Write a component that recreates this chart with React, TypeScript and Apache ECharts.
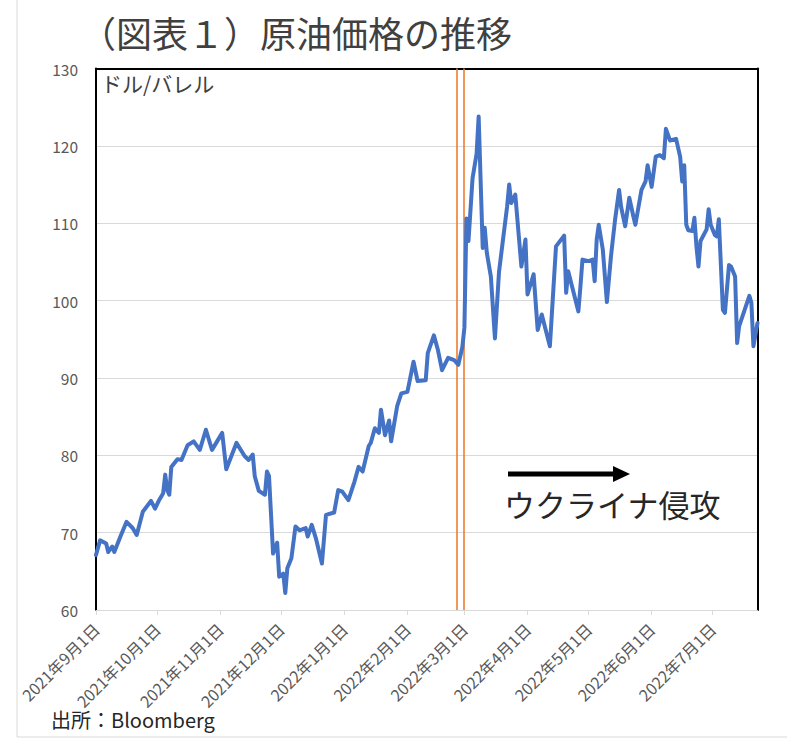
import React, { useEffect, useRef } from "react";
import * as echarts from "echarts";

// ---- data ----
const dates = [
  "2021-09-01", "2021-09-03", "2021-09-06", "2021-09-07", "2021-09-09", "2021-09-10",
  "2021-09-13", "2021-09-16", "2021-09-19", "2021-09-21", "2021-09-24", "2021-09-28",
  "2021-09-30", "2021-10-02", "2021-10-04", "2021-10-05", "2021-10-06", "2021-10-07",
  "2021-10-08", "2021-10-11", "2021-10-13", "2021-10-16", "2021-10-19", "2021-10-22",
  "2021-10-25", "2021-10-28", "2021-11-02", "2021-11-04", "2021-11-09", "2021-11-13",
  "2021-11-15", "2021-11-17", "2021-11-18", "2021-11-20", "2021-11-23", "2021-11-24",
  "2021-11-25", "2021-11-27", "2021-11-29", "2021-11-30", "2021-12-02", "2021-12-03",
  "2021-12-04", "2021-12-06", "2021-12-08", "2021-12-10", "2021-12-13", "2021-12-14",
  "2021-12-16", "2021-12-18", "2021-12-21", "2021-12-23", "2021-12-27", "2021-12-29",
  "2021-12-31", "2022-01-03", "2022-01-06", "2022-01-08", "2022-01-10", "2022-01-13",
  "2022-01-14", "2022-01-16", "2022-01-18", "2022-01-19", "2022-01-21", "2022-01-23",
  "2022-01-24", "2022-01-27", "2022-01-29", "2022-02-01", "2022-02-04", "2022-02-06",
  "2022-02-10", "2022-02-11", "2022-02-14", "2022-02-16", "2022-02-18", "2022-02-21",
  "2022-02-24", "2022-02-26", "2022-02-28", "2022-03-01", "2022-03-02", "2022-03-03",
  "2022-03-05", "2022-03-07", "2022-03-08", "2022-03-10", "2022-03-11", "2022-03-12",
  "2022-03-14", "2022-03-16", "2022-03-18", "2022-03-22", "2022-03-23", "2022-03-24",
  "2022-03-26", "2022-03-29", "2022-03-31", "2022-04-01", "2022-04-04", "2022-04-06",
  "2022-04-08", "2022-04-12", "2022-04-15", "2022-04-19", "2022-04-20", "2022-04-21",
  "2022-04-26", "2022-04-27", "2022-04-28", "2022-05-01", "2022-05-03", "2022-05-04",
  "2022-05-05", "2022-05-06", "2022-05-08", "2022-05-10", "2022-05-12", "2022-05-14",
  "2022-05-16", "2022-05-17", "2022-05-19", "2022-05-21", "2022-05-23", "2022-05-24",
  "2022-05-27", "2022-05-29", "2022-05-30", "2022-06-01", "2022-06-03", "2022-06-05",
  "2022-06-07", "2022-06-08", "2022-06-10", "2022-06-13", "2022-06-15", "2022-06-16",
  "2022-06-17", "2022-06-18", "2022-06-19", "2022-06-21", "2022-06-22", "2022-06-23",
  "2022-06-24", "2022-06-25", "2022-06-28", "2022-06-29", "2022-06-30", "2022-07-02",
  "2022-07-03", "2022-07-04", "2022-07-06", "2022-07-07", "2022-07-09", "2022-07-10",
  "2022-07-12", "2022-07-13", "2022-07-14", "2022-07-19", "2022-07-20", "2022-07-21",
  "2022-07-23",
];

const prices = [
  67.1, 69.0, 68.6, 67.5, 68.2, 67.5,
  69.5, 71.4, 70.6, 69.7, 72.7, 74.1,
  73.1, 74.2, 75.1, 77.5, 75.5, 74.9,
  78.5, 79.5, 79.4, 81.3, 81.8, 80.7,
  83.3, 80.7, 82.9, 78.2, 81.6, 79.9,
  79.4, 80.1, 77.3, 75.4, 74.9, 77.9,
  77.3, 67.3, 68.7, 64.3, 64.7, 62.2,
  65.4, 66.7, 70.8, 70.3, 70.6, 69.5,
  71.0, 69.3, 66.0, 72.3, 72.6, 75.5,
  75.3, 74.2, 76.6, 78.5, 77.9, 81.2,
  81.6, 83.5, 82.9, 85.9, 82.6, 84.5,
  81.8, 86.4, 88.0, 88.2, 92.1, 89.6,
  89.7, 93.2, 95.5, 93.6, 91.0, 92.6,
  92.3, 91.7, 94.0, 96.5, 110.6, 107.7,
  115.8, 119.0, 123.8, 106.8, 109.4, 106.2,
  103.1, 95.1, 103.7, 112.2, 115.0, 112.6,
  113.7, 104.4, 107.9, 100.8, 103.4, 96.2,
  98.2, 94.1, 107.0, 108.4, 101.0, 103.8,
  98.6, 101.8, 105.3, 105.1, 105.3, 102.5,
  107.9, 109.8, 106.6, 99.8, 105.7, 110.4,
  114.3, 112.1, 109.6, 113.3, 110.9, 109.8,
  114.3, 115.4, 117.5, 114.7, 118.6, 118.8,
  118.4, 122.2, 120.7, 120.9, 118.6, 115.4,
  117.5, 109.8, 109.1, 109.0, 110.7, 107.0,
  104.4, 107.7, 109.2, 111.8, 109.8, 108.5,
  108.3, 110.5, 98.8, 98.4, 104.6, 104.4,
  103.1, 94.5, 96.7, 100.6, 99.7, 94.1,
  97.1,
];

const axisStart = "2021-09-01";
const axisEnd = "2022-07-23";
const monthTicks = [
  "2021-09-01", "2021-10-01", "2021-11-01", "2021-12-01", "2022-01-01", "2022-02-01",
  "2022-03-01", "2022-04-01", "2022-05-01", "2022-06-01", "2022-07-01",
];
const yMin = 60;
const yMax = 130;
const yStep = 10;
const invasionLines = ["2022-02-25", "2022-02-28 12:00"];

const titleText = "（図表１）原油価格の推移";
const unitText = "ドル/バレル";
const eventText = "ウクライナ侵攻";
const sourceText = "出所：Bloomberg";

const FONT = "'Noto Sans CJK JP', 'Noto Sans', sans-serif";
const DAY = 86400000;

function ts(s: string): number {
  const [d, t] = s.split(" ");
  const [y, m, dd] = d.split("-").map(Number);
  let h = 0;
  let mi = 0;
  if (t) {
    const p = t.split(":").map(Number);
    h = p[0];
    mi = p[1] || 0;
  }
  return Date.UTC(y, m - 1, dd, h, mi);
}

// day offset from the axis start
function dayOf(s: string): number {
  return (ts(s) - ts(axisStart)) / DAY;
}

function fmtDay(v: number): string {
  const d = new Date(ts(axisStart) + Math.round(v) * DAY);
  return `${d.getUTCFullYear()}年${d.getUTCMonth() + 1}月${d.getUTCDate()}日`;
}

export default function App() {
  const ref = useRef<HTMLDivElement>(null);

  useEffect(() => {
    document.body.style.margin = "0";
    if (!ref.current) return;
    const chart = echarts.init(ref.current, undefined, { renderer: "svg" });
    const tickVals = monthTicks.map(dayOf);
    const xMin = 0;
    const xMax = dayOf(axisEnd);

    const option: any = {
      animation: false,
      backgroundColor: "#ffffff",
      textStyle: { fontFamily: FONT },
      grid: { left: 96, right: 38.5, top: 68.5, bottom: 137, containLabel: false },
      xAxis: [
        {
          type: "value",
          min: xMin,
          max: xMax,
          axisLine: { show: true, lineStyle: { color: "#d9d9d9", width: 1 } },
          axisTick: {
            show: true,
            length: 5,
            lineStyle: { color: "#d9d9d9" },
            customValues: tickVals,
          },
          axisLabel: {
            show: true,
            rotate: 45,
            margin: 16,
            fontSize: 16,
            color: "#595959",
            fontFamily: FONT,
            customValues: tickVals,
            formatter: (v: number) => fmtDay(v),
            hideOverlap: false,
          },
          splitLine: { show: false },
        },
        {
          type: "value",
          position: "top",
          min: xMin,
          max: xMax,
          axisLine: { show: true, onZero: false, lineStyle: { color: "#000000", width: 2 } },
          axisTick: { show: false },
          axisLabel: { show: false },
          splitLine: { show: false },
        },
      ],
      yAxis: [
        {
          type: "value",
          min: yMin,
          max: yMax,
          interval: yStep,
          axisLine: { show: true, onZero: false, lineStyle: { color: "#000000", width: 2 } },
          axisTick: { show: false },
          axisLabel: { fontSize: 15.5, color: "#595959", margin: 18, fontFamily: FONT },
          splitLine: { show: true, lineStyle: { color: "#d9d9d9", width: 1 } },
        },
        {
          type: "value",
          position: "right",
          min: yMin,
          max: yMax,
          interval: yStep,
          axisLine: { show: true, onZero: false, lineStyle: { color: "#000000", width: 2 } },
          axisTick: { show: false },
          axisLabel: { show: false },
          splitLine: { show: false },
        },
      ],
      series: [
        {
          type: "line",
          xAxisIndex: 0,
          yAxisIndex: 0,
          data: dates.map((d, i) => [dayOf(d), prices[i]]),
          showSymbol: false,
          symbol: "none",
          lineStyle: { color: "#4472C4", width: 4, cap: "round", join: "round" },
          z: 3,
          markLine: {
            silent: true,
            symbol: "none",
            label: { show: false },
            lineStyle: { color: "#ED7D31", width: 1.6, type: "solid" },
            data: invasionLines.map((d) => ({ xAxis: dayOf(d) })),
            z: 2,
          },
        },
      ],
      graphic: [
        {
          type: "line",
          shape: { x1: 17, y1: 0, x2: 17, y2: 737 },
          style: { stroke: "#d9d9d9", lineWidth: 1 },
          silent: true,
        },
        {
          type: "line",
          shape: { x1: 17, y1: 737, x2: 787, y2: 737 },
          style: { stroke: "#d9d9d9", lineWidth: 1 },
          silent: true,
        },
        {
          type: "text",
          x: 80,
          y: 32,
          style: {
            text: titleText,
            fontSize: 36,
            fontFamily: FONT,
            fill: "#404040",
            align: "left",
            verticalAlign: "middle",
          },
        },
        {
          type: "text",
          x: 101,
          y: 83,
          style: {
            text: unitText,
            fontSize: 21,
            fontFamily: FONT,
            fill: "#404040",
            align: "left",
            verticalAlign: "middle",
          },
        },
        {
          type: "rect",
          shape: { x: 508, y: 471.5, width: 108, height: 5 },
          style: { fill: "#000000" },
        },
        {
          type: "polygon",
          shape: { points: [[613, 466], [630, 474], [613, 482]] },
          style: { fill: "#000000" },
        },
        {
          type: "text",
          x: 504,
          y: 503,
          style: {
            text: eventText,
            fontSize: 31,
            fontFamily: FONT,
            fill: "#262626",
            align: "left",
            verticalAlign: "middle",
          },
        },
        {
          type: "text",
          x: 51,
          y: 719,
          style: {
            text: sourceText,
            fontSize: 20,
            fontFamily: FONT,
            fill: "#262626",
            align: "left",
            verticalAlign: "middle",
          },
        },
      ],
    };

    chart.setOption(option);
    return () => chart.dispose();
  }, []);

  return <div ref={ref} style={{ width: 796, height: 747 }} />;
}
